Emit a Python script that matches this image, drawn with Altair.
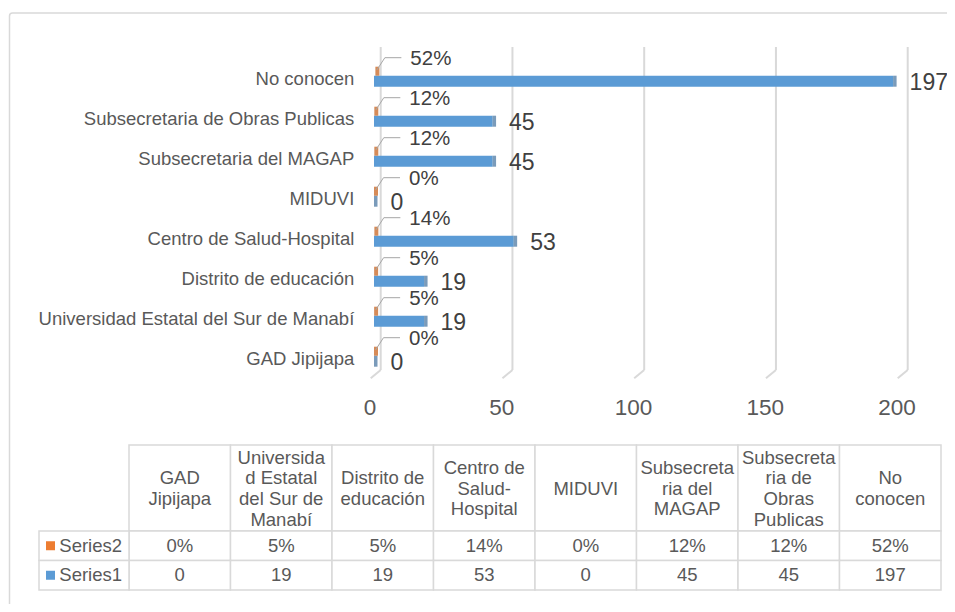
import altair as alt
import pandas as pd

# ---- data ----
categories = ["GAD Jipijapa", "Universidad Estatal del Sur de Manabí", "Distrito de educación",
              "Centro de Salud-Hospital", "MIDUVI", "Subsecretaria del MAGAP",
              "Subsecretaria de Obras Publicas", "No conocen"]
header_labels = ["GAD\nJipijapa", "Universida\nd Estatal\ndel Sur de\nManabí", "Distrito de\neducación",
                 "Centro de\nSalud-\nHospital", "MIDUVI", "Subsecreta\nria del\nMAGAP",
                 "Subsecreta\nria de\nObras\nPublicas", "No\nconocen"]
series1 = [0, 19, 19, 53, 0, 45, 45, 197]
series2 = [0.00, 0.05, 0.05, 0.14, 0.00, 0.12, 0.12, 0.52]
series_names = ["Series2", "Series1"]
series_colors = ["#ED7D31", "#5B9BD5"]
x_ticks = [0, 50, 100, 150, 200]

FONT = "Liberation Sans"
GRID = "#D9D9D9"
LH = 20.7

df = pd.DataFrame({"cat": categories, "s1": series1, "s2": series2, "hdr": header_labels})
df["s2txt"] = [f"{round(v*100)}%" for v in series2]
df["nl"] = [h.count("\n") + 1 for h in header_labels]
ticks_df = pd.DataFrame({"t": x_ticks})
cells = pd.DataFrame({
    "cat": categories * 2,
    "row": ["Series2"] * len(categories) + ["Series1"] * len(categories),
    "val": [f"{round(v*100)}%" for v in series2] + [str(v) for v in series1],
})
legend_df = pd.DataFrame({"row": series_names})
one = pd.DataFrame({"a": [0]})

cats_top = list(reversed(categories))

xbar = alt.Scale(domain=[0, 200], range=[366, 893], nice=False, zero=False)
ycat = alt.Scale(type="point", domain=cats_top, range=[71.3, 351.3], padding=0)
xtab = alt.Scale(type="band", domain=categories, range=[121, 933], paddingInner=0, paddingOuter=0)
yrow = alt.Scale(type="band", domain=series_names, range=[523, 582], paddingInner=0, paddingOuter=0)
# first-line position of a header cell, by its number of lines (block centred in the cell)
ylines = alt.Scale(domain=[1, 4], range=[480.7, 480.7 - 1.5 * LH], nice=False, zero=False)

X = lambda f: alt.X(f, type="quantitative", scale=xbar, axis=None)
Y = lambda: alt.Y("cat:N", scale=ycat, axis=None)

frame = alt.Chart(one).mark_rect(fill="white", stroke=GRID, strokeWidth=1.5, cornerRadius=3).encode(
    x=alt.value(1.5), x2=alt.value(1000), y=alt.value(5), y2=alt.value(700))

grid = alt.Chart(ticks_df).mark_rule(color=GRID, strokeWidth=2, xOffset=6.7).encode(
    x=X("t"), y=alt.value(39), y2=alt.value(362))
grid_diag = alt.Chart(ticks_df).mark_rule(color=GRID, strokeWidth=2, xOffset=6.7, x2Offset=-3.3).encode(
    x=X("t"), x2=alt.X2("t"), y=alt.value(362), y2=alt.value(370.3))
tick_lab = alt.Chart(ticks_df).mark_text(font=FONT, fontSize=22.5, color="#595959", dx=-4,
                                         baseline="middle").encode(
    x=X("t"), y=alt.value(400), text=alt.Text("t:Q"))

bars = alt.Chart(df).mark_bar(height=11, yOffset=1.9, color="#5B9BD5").encode(x=X("s1"), y=Y())
caps = alt.Chart(df).mark_tick(thickness=3.5, size=11, orient="vertical", xOffset=1.75, yOffset=1.9,
                               color="#41719C").encode(x=X("s1"), y=Y())
orange = alt.Chart(df).mark_tick(thickness=4, size=9, orient="vertical", xOffset=2, yOffset=-8.1,
                                 color="#C55A11").encode(x=X("s2"), y=Y())
lead1 = alt.Chart(df).mark_rule(color="#A6A6A6", strokeWidth=1, xOffset=1.5, x2Offset=9.5,
                                yOffset=-9.3, y2Offset=-21.6).encode(
    x=X("s2"), x2=alt.X2("s2"), y=Y(), y2=alt.Y2("cat"))
lead2 = alt.Chart(df).mark_rule(color="#A6A6A6", strokeWidth=1, xOffset=9.5, x2Offset=26,
                                yOffset=-21.6).encode(x=X("s2"), x2=alt.X2("s2"), y=Y())
pct_lab = alt.Chart(df).mark_text(font=FONT, fontSize=20.5, color="#404040", align="left",
                                  baseline="middle", dx=35, dy=-20).encode(
    x=X("s2"), y=Y(), text="s2txt:N")
val_lab = alt.Chart(df).mark_text(font=FONT, fontSize=23, color="#404040", align="left",
                                  baseline="middle", dx=16.5, dy=4).encode(
    x=X("s1"), y=Y(), text="s1:Q")
cat_lab = alt.Chart(df).mark_text(font=FONT, fontSize=18.5, color="#595959", align="right",
                                  baseline="middle").encode(
    x=alt.value(346.3), y=Y(), text="cat:N")

hdr_cells = alt.Chart(df).mark_rect(fill="white", stroke=GRID, strokeWidth=1.5).encode(
    x=alt.X("cat:N", scale=xtab, axis=None), y=alt.value(437), y2=alt.value(523))
body_cells = alt.Chart(cells).mark_rect(fill="white", stroke=GRID, strokeWidth=1.5).encode(
    x=alt.X("cat:N", scale=xtab, axis=None), y=alt.Y("row:N", scale=yrow, axis=None))
lab_cells = alt.Chart(legend_df).mark_rect(fill="white", stroke=GRID, strokeWidth=1.5).encode(
    x=alt.value(31), x2=alt.value(121), y=alt.Y("row:N", scale=yrow, axis=None))
hdr_text = alt.Chart(df).mark_text(font=FONT, fontSize=18.5, color="#595959", lineBreak="\n",
                                   lineHeight=LH, baseline="middle").encode(
    x=alt.X("cat:N", scale=xtab, axis=None),
    y=alt.Y("nl:Q", scale=ylines, axis=None), text="hdr:N")
body_text = alt.Chart(cells).mark_text(font=FONT, fontSize=18.5, color="#595959",
                                       baseline="middle").encode(
    x=alt.X("cat:N", scale=xtab, axis=None), y=alt.Y("row:N", scale=yrow, axis=None), text="val:N")
leg_sq = alt.Chart(legend_df).mark_square(size=81, opacity=1).encode(
    x=alt.value(42.5), y=alt.Y("row:N", scale=yrow, axis=None),
    color=alt.Color("row:N", scale=alt.Scale(domain=series_names, range=series_colors), legend=None))
leg_text = alt.Chart(legend_df).mark_text(font=FONT, fontSize=18.5, color="#595959", align="left",
                                          baseline="middle").encode(
    x=alt.value(51.3), y=alt.Y("row:N", scale=yrow, axis=None), text="row:N")

chart = alt.layer(
    frame, grid, grid_diag, tick_lab, bars, caps, orange, lead1, lead2, pct_lab, val_lab, cat_lab,
    hdr_cells, body_cells, lab_cells, hdr_text, body_text, leg_sq, leg_text
).resolve_scale(x="independent", y="independent", color="independent").properties(
    width=939, height=596, autosize=alt.AutoSizeParams(type="none"), padding=0, background="white"
).configure_view(stroke=None)

chart.save("out.html", embed_options={"renderer": "svg", "actions": False})
